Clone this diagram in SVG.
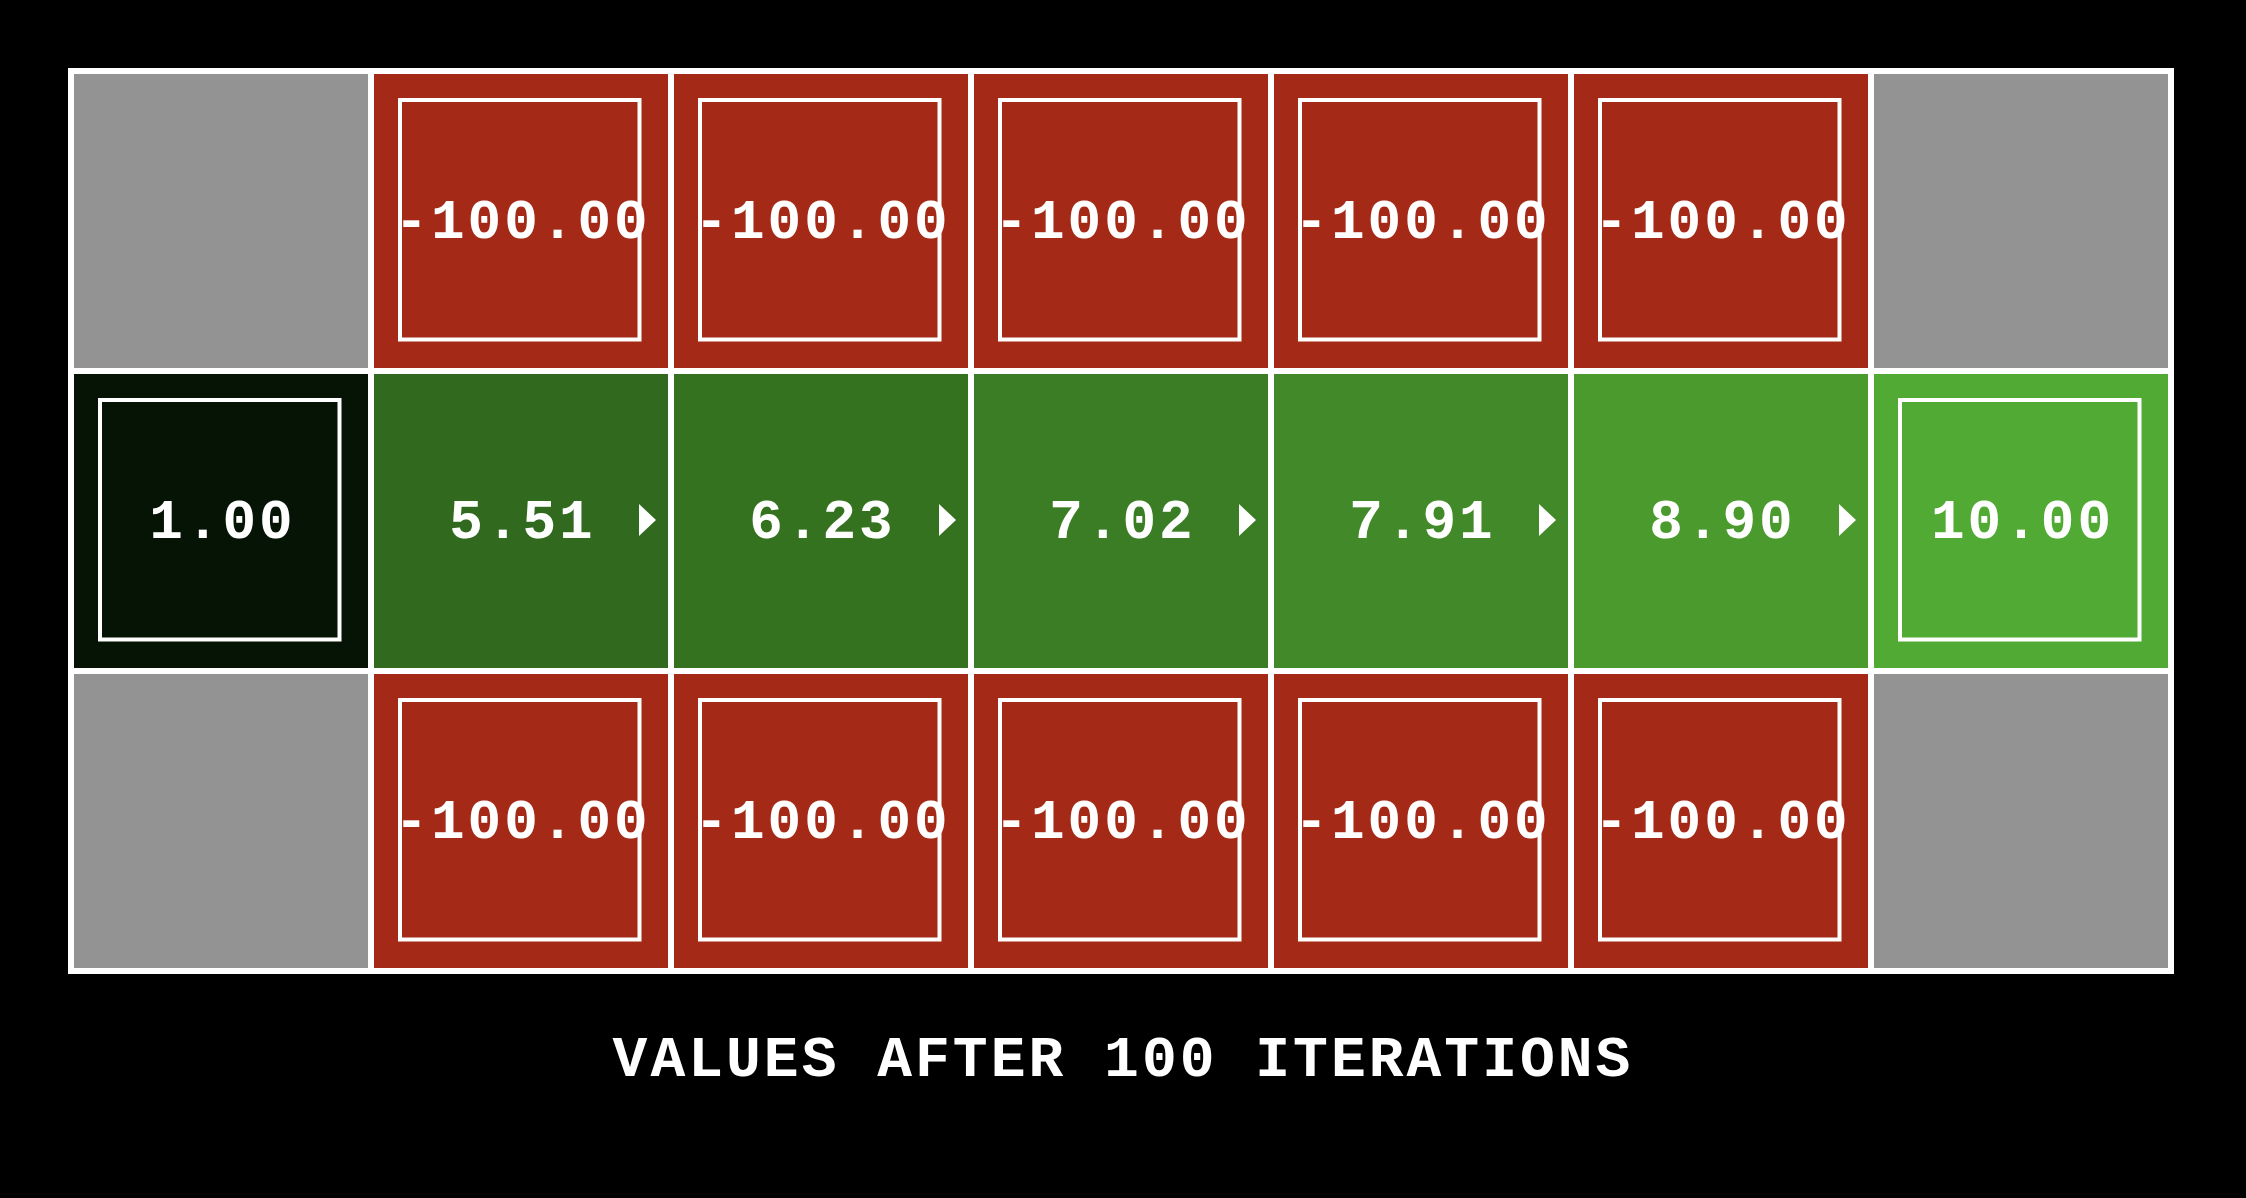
<svg xmlns="http://www.w3.org/2000/svg" width="2246" height="1198" viewBox="0 0 2246 1198">
<style>
.cell{stroke:#fff;stroke-width:6}
.gray{fill:#939393}
.red{fill:#a42a17}
.inner{fill:none;stroke:#fff;stroke-width:4}
.val{font-family:"Liberation Mono",monospace;font-weight:bold;font-size:56px;letter-spacing:3px;fill:#fff;text-anchor:middle}
.arr{fill:#fff}
.title{font-family:"Courier New","Liberation Mono",monospace;font-weight:bold;font-size:58px;letter-spacing:3px;fill:#fff;text-anchor:middle}
</style>
<rect x="0" y="0" width="2246" height="1198" fill="#000"/>
<g id="grid">
<g id="c00"><rect class="cell gray" x="71" y="71" width="300" height="300"/></g>
<g id="c01"><rect class="cell red" x="371" y="71" width="300" height="300"/><rect class="inner" x="400" y="100" width="239.5" height="239.5"/><text class="val" x="522.5" y="237.5">-100.00</text></g>
<g id="c02"><rect class="cell red" x="671" y="71" width="300" height="300"/><rect class="inner" x="700" y="100" width="239.5" height="239.5"/><text class="val" x="822.5" y="237.5">-100.00</text></g>
<g id="c03"><rect class="cell red" x="971" y="71" width="300" height="300"/><rect class="inner" x="1000" y="100" width="239.5" height="239.5"/><text class="val" x="1122.5" y="237.5">-100.00</text></g>
<g id="c04"><rect class="cell red" x="1271" y="71" width="300" height="300"/><rect class="inner" x="1300" y="100" width="239.5" height="239.5"/><text class="val" x="1422.5" y="237.5">-100.00</text></g>
<g id="c05"><rect class="cell red" x="1571" y="71" width="300" height="300"/><rect class="inner" x="1600" y="100" width="239.5" height="239.5"/><text class="val" x="1722.5" y="237.5">-100.00</text></g>
<g id="c06"><rect class="cell gray" x="1871" y="71" width="300" height="300"/></g>

<g id="c10"><rect class="cell" fill="#051405" x="71" y="371" width="300" height="300"/><rect class="inner" x="100" y="400" width="239.5" height="239.5"/><text class="val" x="222.5" y="537.5">1.00</text></g>
<g id="c11"><rect class="cell" fill="#31691e" x="371" y="371" width="300" height="300"/><text class="val" x="522.5" y="537.5">5.51</text><polygon class="arr" points="639,504 656,520 639,536"/></g>
<g id="c12"><rect class="cell" fill="#357220" x="671" y="371" width="300" height="300"/><text class="val" x="822.5" y="537.5">6.23</text><polygon class="arr" points="939,504 956,520 939,536"/></g>
<g id="c13"><rect class="cell" fill="#3b7d24" x="971" y="371" width="300" height="300"/><text class="val" x="1122.5" y="537.5">7.02</text><polygon class="arr" points="1239,504 1256,520 1239,536"/></g>
<g id="c14"><rect class="cell" fill="#428a29" x="1271" y="371" width="300" height="300"/><text class="val" x="1422.5" y="537.5">7.91</text><polygon class="arr" points="1539,504 1556,520 1539,536"/></g>
<g id="c15"><rect class="cell" fill="#4a9a2d" x="1571" y="371" width="300" height="300"/><text class="val" x="1722.5" y="537.5">8.90</text><polygon class="arr" points="1839,504 1856,520 1839,536"/></g>
<g id="c16"><rect class="cell" fill="#50aa33" x="1871" y="371" width="300" height="300"/><rect class="inner" x="1900" y="400" width="239.5" height="239.5"/><text class="val" x="2022.5" y="537.5">10.00</text></g>

<g id="c20"><rect class="cell gray" x="71" y="671" width="300" height="300"/></g>
<g id="c21"><rect class="cell red" x="371" y="671" width="300" height="300"/><rect class="inner" x="400" y="700" width="239.5" height="239.5"/><text class="val" x="522.5" y="837.5">-100.00</text></g>
<g id="c22"><rect class="cell red" x="671" y="671" width="300" height="300"/><rect class="inner" x="700" y="700" width="239.5" height="239.5"/><text class="val" x="822.5" y="837.5">-100.00</text></g>
<g id="c23"><rect class="cell red" x="971" y="671" width="300" height="300"/><rect class="inner" x="1000" y="700" width="239.5" height="239.5"/><text class="val" x="1122.5" y="837.5">-100.00</text></g>
<g id="c24"><rect class="cell red" x="1271" y="671" width="300" height="300"/><rect class="inner" x="1300" y="700" width="239.5" height="239.5"/><text class="val" x="1422.5" y="837.5">-100.00</text></g>
<g id="c25"><rect class="cell red" x="1571" y="671" width="300" height="300"/><rect class="inner" x="1600" y="700" width="239.5" height="239.5"/><text class="val" x="1722.5" y="837.5">-100.00</text></g>
<g id="c26"><rect class="cell gray" x="1871" y="671" width="300" height="300"/></g>
</g>
<g id="connectors"/>
<text id="title" class="title" x="1123" y="1076">VALUES AFTER 100 ITERATIONS</text>
</svg>
